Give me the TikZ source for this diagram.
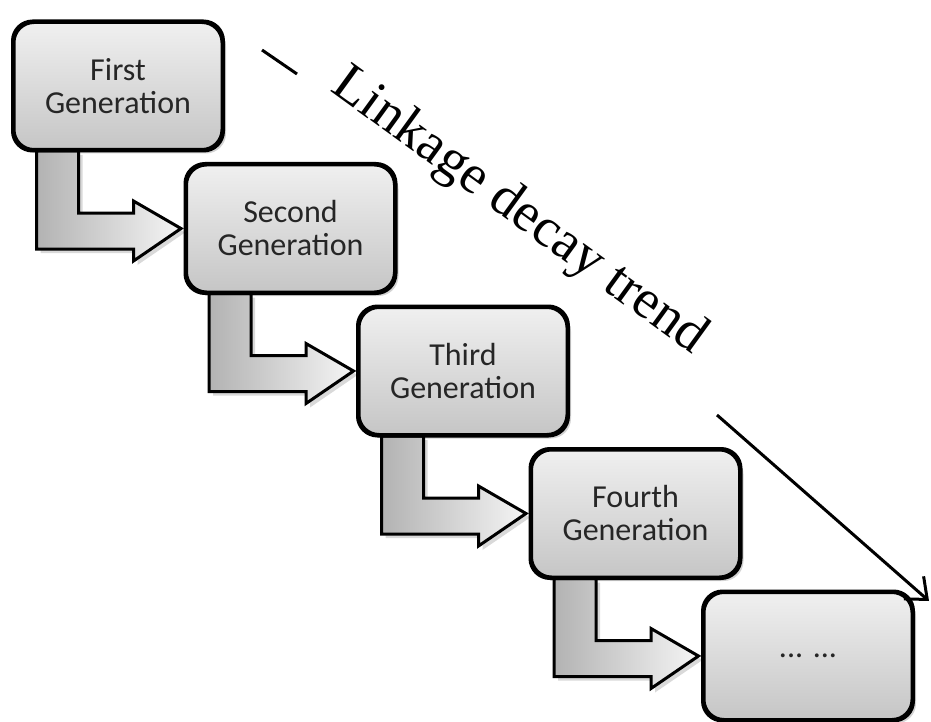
\documentclass[tikz,border=0pt]{standalone}
\usepackage{fontspec}
\setmainfont{Carlito}
\newfontfamily\trendfont{Liberation Serif}
\usetikzlibrary{calc,positioning,shadows,arrows.meta}

\begin{document}
\begin{tikzpicture}[x=1pt, y=-1pt]
  \tikzstyle{genbox} = [draw=black, line width=3pt, rounded corners=20pt,
                        minimum width=208pt, minimum height=127pt,
                        top color=gray!12, bottom color=gray!45,
                        drop shadow={opacity=0.35, shadow xshift=4pt, shadow yshift=-4pt},
                        align=center, text=black!85,
                        font=\fontsize{32}{33}\selectfont]
  \tikzstyle{bentarrow} = [draw=black, line width=3pt, line join=miter,
                           left color=gray!60, right color=gray!8,
                           drop shadow={opacity=0.3, shadow xshift=4pt, shadow yshift=-4pt}]

  \useasboundingbox (0,0) rectangle (931,722);

  \def\dx{172.5};
  \def\dy{142.5};

  % generation boxes
  \node[genbox] (g1) at (118, 86) {First\\Generation};
  \node[genbox] (g2) at ($(g1)+(\dx,\dy)$) {Second\\Generation};
  \node[genbox] (g3) at ($(g2)+(\dx,\dy)$) {Third\\Generation};
  \node[genbox] (g4) at ($(g3)+(\dx,\dy)$) {Fourth\\Generation};
  \node[genbox] (g5) at ($(g4)+(\dx,\dy)$) {... ...};

  % bent arrows between boxes
  \foreach \a/\b in {g1/g2, g2/g3, g3/g4, g4/g5}
    \path[bentarrow] ($(\a.south west)+(24,0)$)
      -- ($(\a.south west)+(24,98)$)
      -- ($(\a.south west)+(121,98)$)
      -- ($(\a.south west)+(121,110)$)
      -- ($(\b.west)+(-4,0)$)
      -- ($(\a.south west)+(121,50)$)
      -- ($(\a.south west)+(121,62)$)
      -- ($(\a.south west)+(66,62)$)
      -- ($(\a.south west)+(66,0)$) -- cycle;

  % redraw box borders over the arrow ends
  \foreach \g in {g1, g2, g3, g4, g5}
    \draw[line width=3pt, rounded corners=20pt] (\g.north west) rectangle (\g.south east);

  % trend line
  \coordinate (t0) at (262, 50);
  \coordinate (t1) at (297, 74);
  \coordinate (t2) at (717, 415);
  \coordinate (t3) at (929, 601);
  \draw[line width=3pt] (t0) -- (t1);
  \draw[line width=3pt, -{Straight Barb[length=18pt, width=30pt, line width=3pt]}] (t2) -- (t3);
  \node[font=\trendfont\fontsize{55}{58}\selectfont, rotate=-36] (trend) at (519, 212) {Linkage decay trend};

\end{tikzpicture}
\end{document}
